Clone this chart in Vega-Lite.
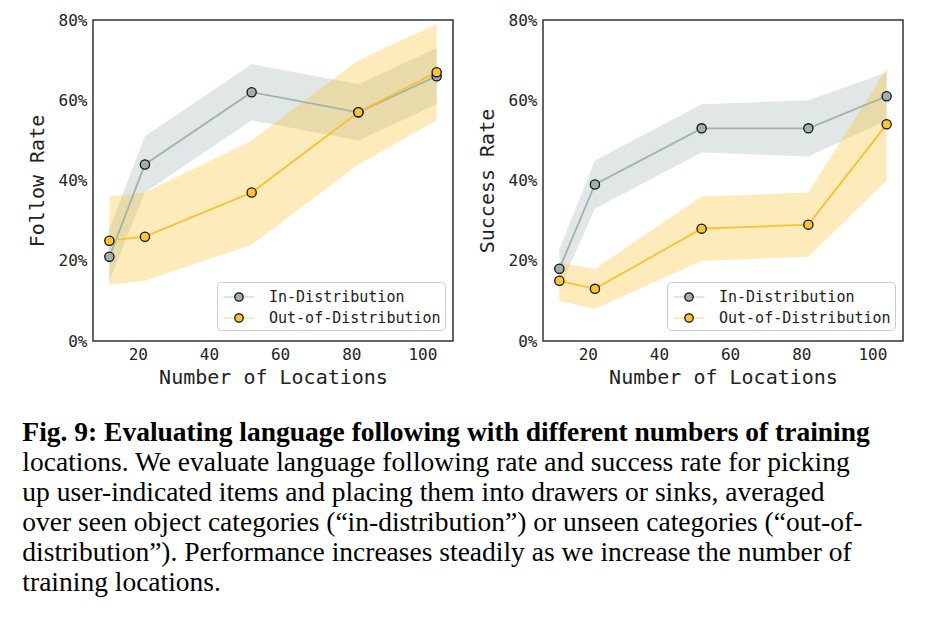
{
  "$schema": "https://vega.github.io/schema/vega-lite/v6.json",
  "background": "white",
  "padding": {"left": 22, "top": 11, "right": 0, "bottom": 0},
  "datasets": {
    "follow": [
      {"loc": 12, "group": "In-Distribution", "rate": 0.21, "lo": 0.15, "hi": 0.28},
      {"loc": 22, "group": "In-Distribution", "rate": 0.44, "lo": 0.37, "hi": 0.51},
      {"loc": 52, "group": "In-Distribution", "rate": 0.62, "lo": 0.55, "hi": 0.69},
      {"loc": 82, "group": "In-Distribution", "rate": 0.57, "lo": 0.50, "hi": 0.64},
      {"loc": 104, "group": "In-Distribution", "rate": 0.66, "lo": 0.59, "hi": 0.73},
      {"loc": 12, "group": "Out-of-Distribution", "rate": 0.25, "lo": 0.14, "hi": 0.36},
      {"loc": 22, "group": "Out-of-Distribution", "rate": 0.26, "lo": 0.15, "hi": 0.37},
      {"loc": 52, "group": "Out-of-Distribution", "rate": 0.37, "lo": 0.24, "hi": 0.50},
      {"loc": 82, "group": "Out-of-Distribution", "rate": 0.57, "lo": 0.44, "hi": 0.70},
      {"loc": 104, "group": "Out-of-Distribution", "rate": 0.67, "lo": 0.55, "hi": 0.79}
    ],
    "success": [
      {"loc": 12, "group": "In-Distribution", "rate": 0.18, "lo": 0.13, "hi": 0.23},
      {"loc": 22, "group": "In-Distribution", "rate": 0.39, "lo": 0.33, "hi": 0.45},
      {"loc": 52, "group": "In-Distribution", "rate": 0.53, "lo": 0.47, "hi": 0.59},
      {"loc": 82, "group": "In-Distribution", "rate": 0.53, "lo": 0.46, "hi": 0.60},
      {"loc": 104, "group": "In-Distribution", "rate": 0.61, "lo": 0.55, "hi": 0.67},
      {"loc": 12, "group": "Out-of-Distribution", "rate": 0.15, "lo": 0.10, "hi": 0.195},
      {"loc": 22, "group": "Out-of-Distribution", "rate": 0.13, "lo": 0.08, "hi": 0.18},
      {"loc": 52, "group": "Out-of-Distribution", "rate": 0.28, "lo": 0.20, "hi": 0.36},
      {"loc": 82, "group": "Out-of-Distribution", "rate": 0.29, "lo": 0.21, "hi": 0.37},
      {"loc": 104, "group": "Out-of-Distribution", "rate": 0.54, "lo": 0.40, "hi": 0.68}
    ]
  },
  "title": {
    "text": "Fig. 9: Evaluating language following with different numbers of training",
    "subtitle": [
      "locations. We evaluate language following rate and success rate for picking",
      "up user-indicated items and placing them into drawers or sinks, averaged",
      "over seen object categories (“in-distribution”) or unseen categories (“out-of-",
      "distribution”). Performance increases steadily as we increase the number of",
      "training locations."
    ],
    "orient": "bottom",
    "anchor": "start",
    "frame": "bounds",
    "dx": -4,
    "offset": 31,
    "font": "Liberation Serif",
    "fontSize": 27.5,
    "fontWeight": "bold",
    "color": "black",
    "subtitleFont": "Liberation Serif",
    "subtitleFontSize": 27.5,
    "subtitleFontWeight": "normal",
    "subtitleColor": "black",
    "subtitleLineHeight": 30,
    "subtitlePadding": 3
  },
  "spacing": 22,
  "resolve": {
    "scale": {"color": "independent", "fill": "independent", "x": "independent", "y": "independent"},
    "legend": {"color": "independent", "fill": "independent"}
  },
  "hconcat": [
    {
      "width": 360,
      "height": 321,
      "data": {"name": "follow"},
      "encoding": {
        "x": {"field": "loc", "type": "quantitative", "title": "Number of Locations",
          "scale": {"domain": [7.4, 108.6], "nice": false, "zero": false},
          "axis": {"values": [20, 40, 60, 80, 100], "labelPadding": 5, "titlePadding": 5}}
      },
      "layer": [
        {
          "mark": {"type": "area", "opacity": 0.32},
          "encoding": {
            "y": {"field": "lo", "type": "quantitative"},
            "y2": {"field": "hi"},
            "color": {"field": "group", "type": "nominal",
              "scale": {"range": ["#a2b1b1", "#fbc02d"]}}
          }
        },
        {
          "mark": {"type": "line", "strokeWidth": 1.8},
          "encoding": {
            "y": {"field": "rate", "type": "quantitative", "title": "Follow Rate",
              "scale": {"domain": [0, 0.8], "nice": false},
              "axis": {"values": [0, 0.2, 0.4, 0.6, 0.8], "format": ".0%", "titlePadding": 11}},
            "color": {"field": "group", "type": "nominal",
              "scale": {"range": ["#a2b1b1", "#fbc02d"]},
              "legend": {"orient": "none", "legendX": 124, "legendY": 262, "title": null,
                "symbolType": "M-1.55,0H1.55", "symbolSize": 400, "symbolStrokeWidth": 2, "symbolOpacity": 1,
                "symbolOffset": 7, "symbolFillColor": "transparent",
                "labelFont": "DejaVu Sans Mono", "labelFontSize": 15, "labelColor": "#222", "labelLimit": 400,
                "labelOffset": 19, "padding": 4, "rowPadding": 2,
                "fillColor": "rgba(255,255,255,0.8)", "strokeColor": "#cccccc", "cornerRadius": 4}}
          }
        },
        {
          "mark": {"type": "point", "filled": true, "size": 85, "stroke": "#111111", "strokeWidth": 1.3, "opacity": 1},
          "encoding": {
            "y": {"field": "rate", "type": "quantitative"},
            "fill": {"field": "group", "type": "nominal",
              "scale": {"domain": ["In-Distribution", "Out-of-Distribution"], "range": ["#9fb0b0", "#fbc531"]},
              "legend": {"orient": "none", "legendX": 124, "legendY": 262, "title": null,
                "symbolType": "M-0.42,0A0.42,0.42 0 1,1 0.42,0A0.42,0.42 0 1,1 -0.42,0Z",
                "symbolSize": 400, "symbolStrokeColor": "#111111", "symbolStrokeWidth": 1.3, "symbolOpacity": 1,
                "symbolOffset": 7,
                "labelFont": "DejaVu Sans Mono", "labelFontSize": 15, "labelOpacity": 0, "labelLimit": 400,
                "labelOffset": 19, "padding": 4, "rowPadding": 2}}
          }
        }
      ]
    },
    {
      "width": 360,
      "height": 321,
      "data": {"name": "success"},
      "encoding": {
        "x": {"field": "loc", "type": "quantitative", "title": "Number of Locations",
          "scale": {"domain": [7.4, 108.6], "nice": false, "zero": false},
          "axis": {"values": [20, 40, 60, 80, 100], "labelPadding": 5, "titlePadding": 5}}
      },
      "layer": [
        {
          "mark": {"type": "area", "opacity": 0.32},
          "encoding": {
            "y": {"field": "lo", "type": "quantitative"},
            "y2": {"field": "hi"},
            "color": {"field": "group", "type": "nominal",
              "scale": {"range": ["#a2b1b1", "#fbc02d"]}}
          }
        },
        {
          "mark": {"type": "line", "strokeWidth": 1.8},
          "encoding": {
            "y": {"field": "rate", "type": "quantitative", "title": "Success Rate",
              "scale": {"domain": [0, 0.8], "nice": false},
              "axis": {"values": [0, 0.2, 0.4, 0.6, 0.8], "format": ".0%", "titlePadding": 11}},
            "color": {"field": "group", "type": "nominal",
              "scale": {"range": ["#a2b1b1", "#fbc02d"]},
              "legend": {"orient": "none", "legendX": 124, "legendY": 262, "title": null,
                "symbolType": "M-1.55,0H1.55", "symbolSize": 400, "symbolStrokeWidth": 2, "symbolOpacity": 1,
                "symbolOffset": 7, "symbolFillColor": "transparent",
                "labelFont": "DejaVu Sans Mono", "labelFontSize": 15, "labelColor": "#222", "labelLimit": 400,
                "labelOffset": 19, "padding": 4, "rowPadding": 2,
                "fillColor": "rgba(255,255,255,0.8)", "strokeColor": "#cccccc", "cornerRadius": 4}}
          }
        },
        {
          "mark": {"type": "point", "filled": true, "size": 85, "stroke": "#111111", "strokeWidth": 1.3, "opacity": 1},
          "encoding": {
            "y": {"field": "rate", "type": "quantitative"},
            "fill": {"field": "group", "type": "nominal",
              "scale": {"domain": ["In-Distribution", "Out-of-Distribution"], "range": ["#9fb0b0", "#fbc531"]},
              "legend": {"orient": "none", "legendX": 124, "legendY": 262, "title": null,
                "symbolType": "M-0.42,0A0.42,0.42 0 1,1 0.42,0A0.42,0.42 0 1,1 -0.42,0Z",
                "symbolSize": 400, "symbolStrokeColor": "#111111", "symbolStrokeWidth": 1.3, "symbolOpacity": 1,
                "symbolOffset": 7,
                "labelFont": "DejaVu Sans Mono", "labelFontSize": 15, "labelOpacity": 0, "labelLimit": 400,
                "labelOffset": 19, "padding": 4, "rowPadding": 2}}
          }
        }
      ]
    }
  ],
  "config": {
    "view": {"stroke": "#333333", "strokeWidth": 1.5},
    "axis": {
      "grid": false, "ticks": false, "domain": false,
      "labelFont": "DejaVu Sans Mono", "labelFontSize": 16, "labelColor": "#222222", "labelPadding": 6,
      "titleFont": "DejaVu Sans Mono", "titleFontSize": 20, "titleFontWeight": "normal", "titleColor": "#222222",
      "titlePadding": 8
    }
  }
}
